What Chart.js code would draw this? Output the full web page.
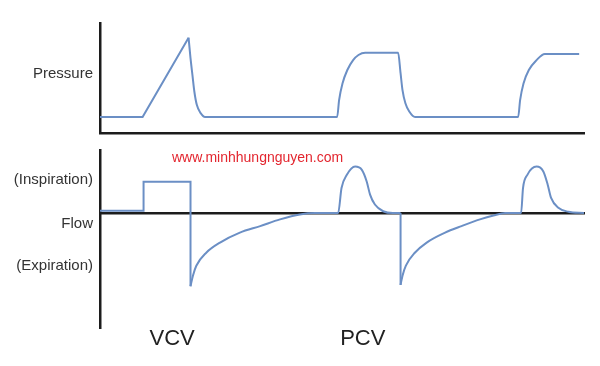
<!DOCTYPE html>
<html>
<head>
<meta charset="utf-8">
<script src="https://cdn.jsdelivr.net/npm/chart.js@4.4.1/dist/chart.umd.min.js"></script>
<style>
  html, body { margin: 0; padding: 0; background: #fff; }
  #wrap { position: relative; width: 600px; height: 366px; overflow: hidden; }
  #wrap canvas { position: absolute; left: 0; top: 0; }
  #site {
    position: absolute; left: 172px; top: 149px;
    font: 14px "Liberation Sans", Arial, sans-serif;
    color: #e3262f; white-space: nowrap;
  }
</style>
</head>
<body>
<div id="wrap">
  <canvas id="pressureChart" width="600" height="366"></canvas>
  <canvas id="flowChart" width="600" height="366"></canvas>
  <div id="site">www.minhhungnguyen.com</div>
</div>
<script>
// time runs 0..10 (arbitrary units), pressure ~cmH2O, flow ~L/min
// each trace is a list of [time, value] pairs

// --- Pressure ---
const vcvPressureRamp = [[0, 5], [0.88, 5], [1.83, 29.8]];
const pressureCurve = [
  [1.83, 29.8], [1.87, 23.4], [1.91, 18.1], [1.95, 12.9], [2.00, 8.8], [2.08, 6.2], [2.17, 5],
  [4.90, 5], [4.94, 10.3], [5.01, 15.5], [5.11, 19.7], [5.23, 22.8], [5.34, 24.4], [5.48, 25.1],
  [6.16, 25.1], [6.21, 18.7], [6.25, 13.4], [6.31, 9.3], [6.39, 6.7], [6.51, 5],
  [8.64, 5], [8.68, 10.3], [8.75, 15.5], [8.86, 19.7], [9.02, 22.8], [9.19, 24.7], [9.90, 24.7]
];

// --- Flow ---
const vcvFlowSquare = [[0, 3], [0.90, 3], [0.90, 40.7], [1.87, 40.7], [1.87, -95]];
const flowCurveA = [
  [1.87, -95], [1.92, -81.3], [1.99, -68.4], [2.20, -51.2], [2.48, -38.3], [2.89, -25.4],
  [3.31, -16.9], [3.72, -8.2], [4.13, -1.8], [4.44, 0],
  [4.92, 0], [4.99, 32.6], [5.10, 49.7], [5.27, 60.4], [5.41, 56.2], [5.51, 41.1],
  [5.58, 24], [5.68, 11.1], [5.85, 2.4], [6.05, 0], [6.21, 0]
];
const pcvFlowDrop = [[6.21, 0], [6.21, -93.3]];
const flowCurveB = [
  [6.21, -93.3], [6.25, -81.3], [6.32, -68.2], [6.51, -51.2], [6.75, -38.3], [7.13, -25.4],
  [7.47, -16.9], [7.85, -8.2], [8.13, -3.1], [8.37, 0],
  [8.70, 0], [8.74, 32.6], [8.83, 49.7], [9.02, 60.4], [9.16, 54], [9.25, 36.9],
  [9.32, 19.7], [9.47, 6.8], [9.68, 1.7], [10, 0]
];

// --- Labels ---
const pressureLabels = ['Pressure'];
const pressureLabelAt = [18.6];
const flowLabels = ['(Inspiration)', 'Flow', '(Expiration)'];
const flowLabelAt = [43.3, -13.4, -68.8];
const modeLabels = ['VCV', 'PCV'];
const modeLabelAt = [1.49, 5.43];

const traceColor = '#6b8fc5';
const axisLine = { color: '#1c1c1c', width: 2.5 };
const fontFamily = '"Liberation Sans", Arial, sans-serif';

const trace = (points, smooth) => ({
  data: points.map(([x, y]) => ({ x, y })),
  borderColor: traceColor,
  borderWidth: 2,
  pointRadius: 0,
  fill: false,
  tension: 0,
  cubicInterpolationMode: smooth ? 'monotone' : 'default'
});

const noGrid = { display: false, drawTicks: false };

// left axis with fixed width so both panels line up at x = 100
const labelAxis = (min, max, labels, at) => ({
  min: min,
  max: max,
  grid: noGrid,
  border: axisLine,
  afterFit: s => { s.width = 100; },
  afterBuildTicks: s => { s.ticks = at.map(v => ({ value: v })); },
  ticks: {
    autoSkip: false,
    padding: 7,
    color: '#333',
    font: { family: fontFamily, size: 15 },
    callback: (v, i) => labels[i]
  }
});

const baseOptions = {
  responsive: false,
  animation: false,
  plugins: { legend: { display: false }, tooltip: { enabled: false } }
};

new Chart(document.getElementById('pressureChart'), {
  type: 'line',
  data: { datasets: [trace(vcvPressureRamp, false), trace(pressureCurve, true)] },
  options: {
    ...baseOptions,
    layout: { padding: { top: 23, right: 16, bottom: 233, left: 0 } },
    scales: {
      x: {
        type: 'linear', min: 0, max: 10,
        position: { y: 0 },
        grid: noGrid,
        ticks: { display: false },
        border: axisLine
      },
      y: labelAxis(0, 34.4, pressureLabels, pressureLabelAt)
    }
  }
});

new Chart(document.getElementById('flowChart'), {
  type: 'line',
  data: {
    datasets: [
      trace(vcvFlowSquare, false),
      trace(flowCurveA, true),
      trace(pcvFlowDrop, false),
      trace(flowCurveB, true)
    ]
  },
  options: {
    ...baseOptions,
    layout: { padding: { top: 150, right: 16, bottom: 16.1, left: 0 } },
    scales: {
      x: {
        type: 'linear', min: 0, max: 10,
        position: { y: 0 },
        z: 1, // zero line sits on top of the trace
        grid: noGrid,
        ticks: { display: false },
        border: axisLine
      },
      x2: {
        type: 'linear', min: 0, max: 10,
        position: 'bottom',
        grid: noGrid,
        border: { display: false },
        afterBuildTicks: s => { s.ticks = modeLabelAt.map(v => ({ value: v })); },
        ticks: {
          autoSkip: false,
          maxRotation: 0,
          padding: -2.5,
          color: '#222',
          font: { family: fontFamily, size: 22 },
          callback: (v, i) => modeLabels[i]
        }
      },
      y: labelAxis(-150, 82, flowLabels, flowLabelAt)
    }
  }
});
</script>
</body>
</html>
